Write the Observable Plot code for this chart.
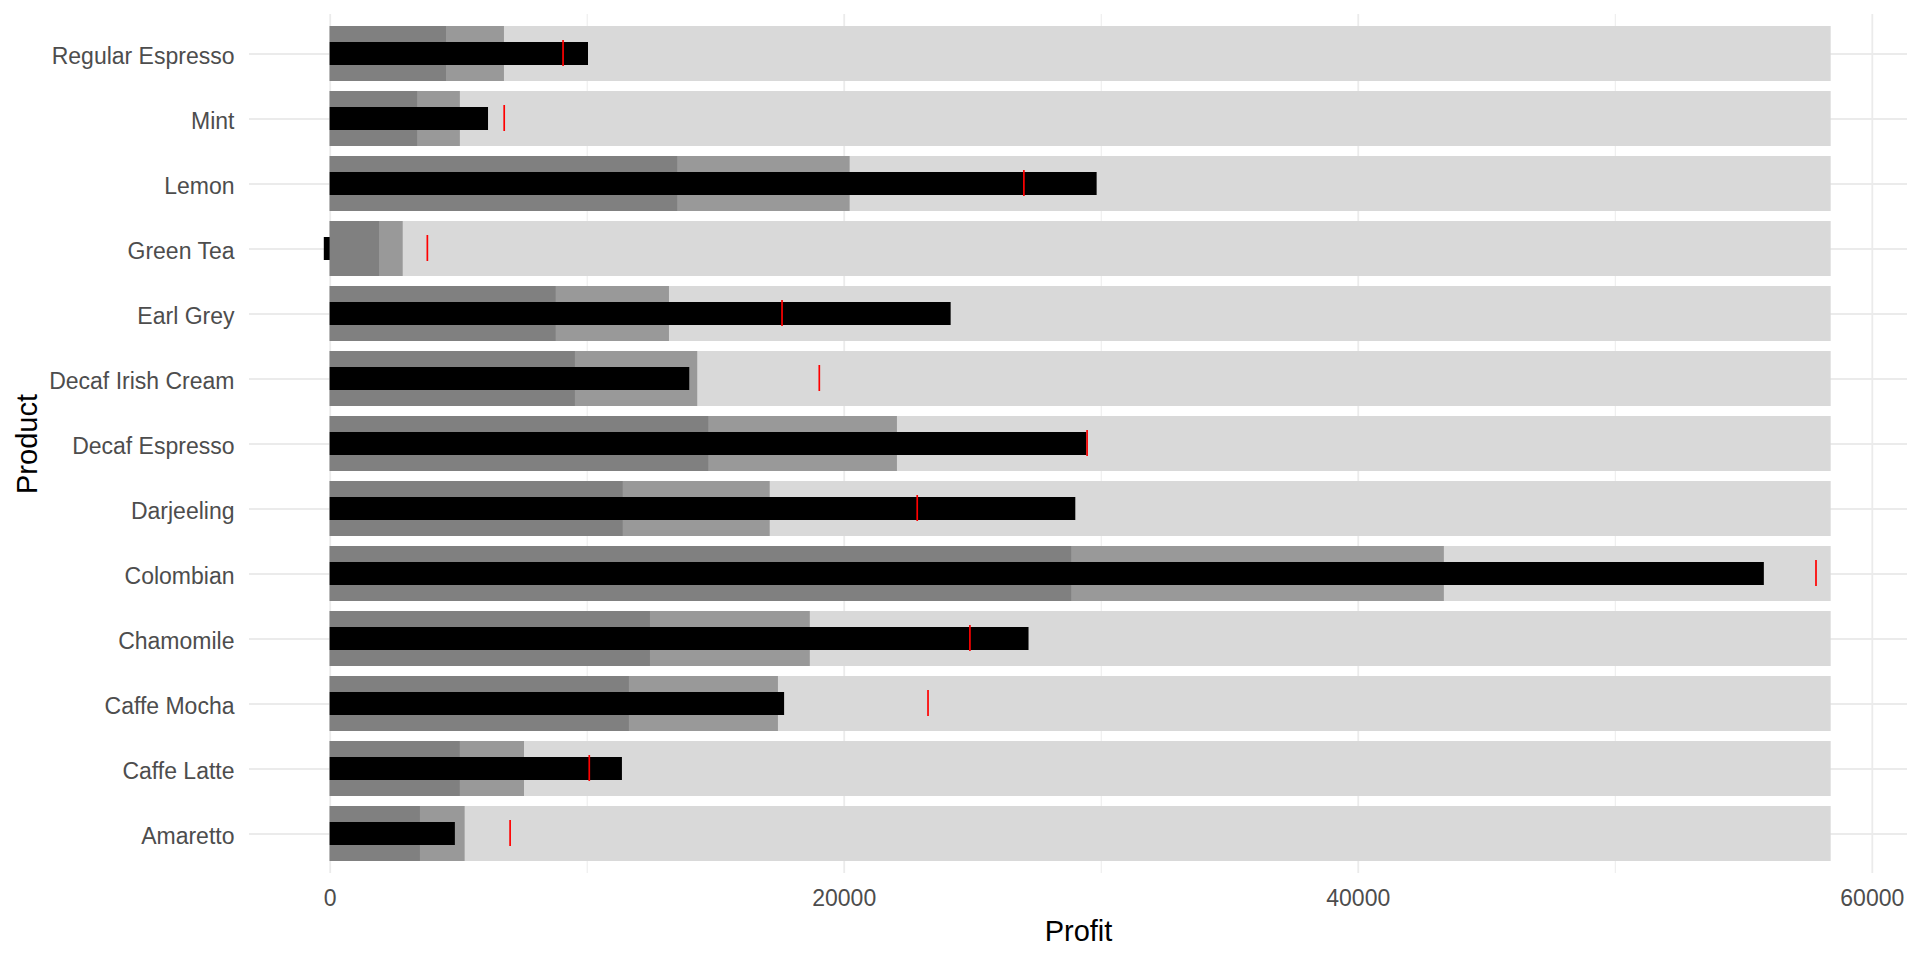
<!DOCTYPE html>
<html>
<head>
<meta charset="utf-8">
<script src="https://cdn.jsdelivr.net/npm/d3@7"></script>
<script src="https://cdn.jsdelivr.net/npm/@observablehq/plot@0.6"></script>
<style>
  html, body { margin: 0; padding: 0; background: #ffffff; }
  #chart { width: 1920px; height: 960px; }
</style>
</head>
<body>
<div id="chart"></div>
<script>
const products = ["Regular Espresso", "Mint", "Lemon", "Green Tea", "Earl Grey", "Decaf Irish Cream",
  "Decaf Espresso", "Darjeeling", "Colombian", "Chamomile", "Caffe Mocha", "Caffe Latte", "Amaretto"];
const profit    = [10050, 6160, 29840, -230, 24160, 13990, 29440, 29010, 55800, 27190, 17680, 11370, 4870];
const target    = [9060, 6770, 26990, 3780, 17580, 19030, 29450, 22840, 57810, 24890, 23260, 10080, 7000];
const rangeLow  = [4525, 3400, 13520, 1920, 8790, 9540, 14730, 11400, 28850, 12460, 11640, 5060, 3510];
const rangeMid  = [6780, 5065, 20230, 2840, 13200, 14300, 22070, 17120, 43350, 18680, 17440, 7560, 5250];
const rangeHigh = [58400, 58400, 58400, 58400, 58400, 58400, 58400, 58400, 58400, 58400, 58400, 58400, 58400];
const majorTicks = [0, 20000, 40000, 60000];
const minorTicks = [10000, 30000, 50000];

const data = products.map((p, i) => ({
  product: p, profit: profit[i], target: target[i],
  low: rangeLow[i], mid: rangeMid[i], high: rangeHigh[i]
}));

const font = "'Liberation Sans', Arial, sans-serif";

const chart = Plot.plot({
  width: 1920,
  height: 960,
  marginLeft: 249,
  marginRight: 13,
  marginTop: 14,
  marginBottom: 87,
  style: { fontFamily: font, fontSize: "23px", background: "#ffffff", color: "#4D4D4D" },
  x: { domain: [-3140, 61370], axis: null },
  y: { domain: products, paddingInner: 0.1595, paddingOuter: 0.17975, axis: null },
  marks: [
    Plot.ruleX(minorTicks, { stroke: "#EBEBEB", strokeWidth: 1 }),
    Plot.ruleX(majorTicks, { stroke: "#EBEBEB", strokeWidth: 1.8 }),
    Plot.ruleY(products, { y: d => d, stroke: "#EBEBEB", strokeWidth: 1.8 }),
    Plot.barX(data, { x1: 0, x2: "high", y: "product", fill: "#D9D9D9" }),
    Plot.barX(data, { x1: 0, x2: "mid", y: "product", fill: "#999999" }),
    Plot.barX(data, { x1: 0, x2: "low", y: "product", fill: "#808080" }),
    Plot.barX(data, { x1: 0, x2: "profit", y: "product", fill: "#000000", insetTop: 16, insetBottom: 16 }),
    Plot.tickX(data, { x: "target", y: "product", stroke: "#FF0000", strokeWidth: 1.7, insetTop: 14, insetBottom: 15 }),
    Plot.axisX({ ticks: majorTicks, tickSize: 0, tickPadding: 16, tickFormat: d3.format("d"),
      fill: "#4D4D4D", fontSize: 23, label: null }),
    Plot.axisY({ tickSize: 0, tickPadding: 15, dy: 2.5, fill: "#4D4D4D", fontSize: 23, label: null }),
    Plot.text(["Profit"], { frameAnchor: "bottom", dy: 58, fill: "#000000", fontSize: 29, lineAnchor: "middle" }),
    Plot.text(["Product"], { frameAnchor: "left", dx: -222, rotate: -90, fill: "#000000", fontSize: 29, textAnchor: "middle", lineAnchor: "middle" })
  ]
});
document.getElementById("chart").appendChild(chart);
</script>
</body>
</html>
